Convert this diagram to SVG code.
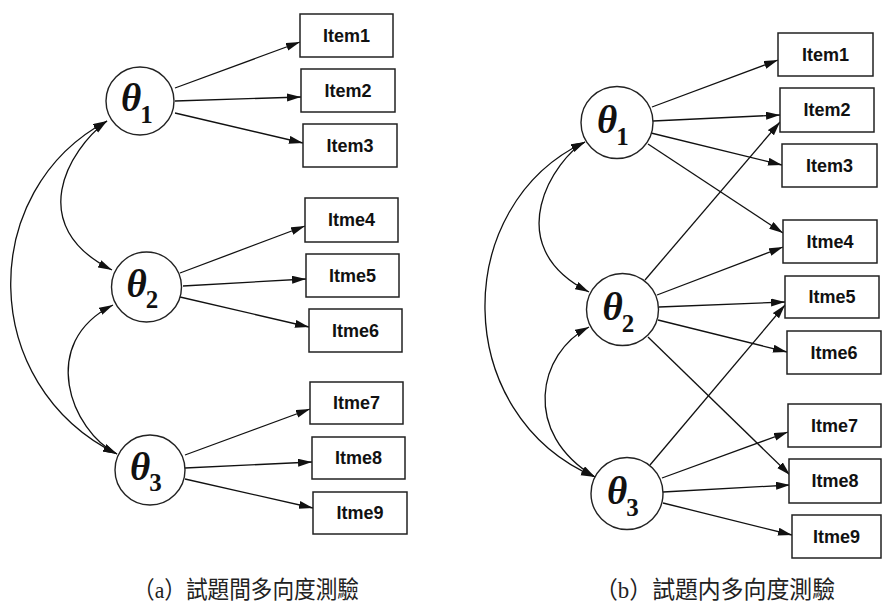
<svg xmlns="http://www.w3.org/2000/svg" width="882" height="610" viewBox="0 0 882 610">
<style>
.box rect{fill:#fff;stroke:#222;stroke-width:1.5}
.box text{font-family:"Liberation Sans",Arial,sans-serif;font-weight:bold;font-size:18px;fill:#111;text-anchor:middle}
.lat circle{fill:#fff;stroke:#222;stroke-width:1.4}
.th{font-family:"Liberation Serif","Times New Roman",serif;font-weight:bold;font-style:italic;font-size:39px;fill:#111}
.sub{font-style:normal;font-size:25px}
.edges line,.edges path{stroke:#111;stroke-width:1.3;fill:none}
.edges line{marker-end:url(#ah)}
.edges path{marker-start:url(#ah);marker-end:url(#ah)}
.cap{font-family:"Liberation Serif","Noto Sans CJK TC",serif;font-size:24px;fill:#222}
</style>
<defs>
<marker id="ah" markerWidth="15" markerHeight="9" refX="14" refY="4" orient="auto-start-reverse" markerUnits="userSpaceOnUse">
<path d="M0,0 L14,4 L0,8 z" fill="#111"/>
</marker>
</defs>
<rect width="882" height="610" fill="#fff"/>

<g class="edges" id="connectors">
<!-- left -->
<line x1="175" y1="88" x2="300" y2="42"/>
<line x1="175" y1="101" x2="301" y2="97"/>
<line x1="175" y1="113" x2="303" y2="143"/>
<line x1="180" y1="273" x2="305" y2="226"/>
<line x1="183" y1="286" x2="306" y2="279"/>
<line x1="180" y1="297" x2="309" y2="327"/>
<line x1="185" y1="455" x2="310" y2="409"/>
<line x1="185" y1="468" x2="312" y2="462"/>
<line x1="185" y1="479" x2="313" y2="508"/>
<path d="M107,121 C68,150 24,226 112,270"/>
<path d="M113,305 C37,343 71,431 117,454"/>
<path d="M107,121 C-23,190 -23,385 117,454"/>
<!-- right -->
<line x1="652" y1="107" x2="778" y2="60"/>
<line x1="653" y1="121" x2="780" y2="115"/>
<line x1="651" y1="133" x2="782" y2="165"/>
<line x1="648" y1="144" x2="783" y2="233"/>
<line x1="645" y1="280" x2="780" y2="122"/>
<line x1="657" y1="295" x2="783" y2="247"/>
<line x1="659" y1="307" x2="785" y2="302"/>
<line x1="658" y1="320" x2="787" y2="352"/>
<line x1="648" y1="337" x2="790" y2="475"/>
<line x1="650" y1="465" x2="785" y2="305"/>
<line x1="662" y1="478" x2="788" y2="432"/>
<line x1="663" y1="492" x2="790" y2="485"/>
<line x1="663" y1="503" x2="792" y2="535"/>
<path d="M585,142 C556,157 496,245 589,292"/>
<path d="M589,327 C538,353 521,433 595,477"/>
<path d="M585,142 C450,205 450,415 595,477"/>
</g>

<!-- left latent nodes -->
<g id="a_theta1" class="lat" transform="translate(140,101)"><circle r="34"/><text class="th" x="-19" y="10">θ<tspan class="sub" dx="-1" dy="12">1</tspan></text></g>
<g id="a_theta2" class="lat" transform="translate(146.5,287)"><circle r="35"/><text class="th" x="-20" y="10">θ<tspan class="sub" dx="-1" dy="11">2</tspan></text></g>
<g id="a_theta3" class="lat" transform="translate(150,470)"><circle r="35"/><text class="th" x="-20" y="10">θ<tspan class="sub" dx="-1" dy="11">3</tspan></text></g>

<!-- left items -->
<g id="a_item1" class="box"><rect x="300" y="14" width="93" height="43"/><text x="346.5" y="42">Item1</text></g>
<g id="a_item2" class="box"><rect x="301" y="69" width="94" height="43"/><text x="348" y="97">Item2</text></g>
<g id="a_item3" class="box"><rect x="303" y="124" width="94" height="43"/><text x="350" y="152">Item3</text></g>
<g id="a_item4" class="box"><rect x="305" y="198" width="93" height="44"/><text x="351.5" y="226">Itme4</text></g>
<g id="a_item5" class="box"><rect x="306" y="254" width="93" height="43"/><text x="352.5" y="282">Itme5</text></g>
<g id="a_item6" class="box"><rect x="309" y="309" width="93" height="43"/><text x="355.5" y="337">Itme6</text></g>
<g id="a_item7" class="box"><rect x="310" y="382" width="93" height="42"/><text x="356.5" y="409">Itme7</text></g>
<g id="a_item8" class="box"><rect x="312" y="437" width="93" height="42"/><text x="358.5" y="464">Itme8</text></g>
<g id="a_item9" class="box"><rect x="313" y="492" width="94" height="42"/><text x="360" y="519">Itme9</text></g>

<!-- right latent nodes -->
<g id="b_theta1" class="lat" transform="translate(617,122.5)"><circle r="36"/><text class="th" x="-20" y="10">θ<tspan class="sub" dx="-1" dy="12">1</tspan></text></g>
<g id="b_theta2" class="lat" transform="translate(622.5,309.5)"><circle r="36"/><text class="th" x="-20" y="10">θ<tspan class="sub" dx="-1" dy="12">2</tspan></text></g>
<g id="b_theta3" class="lat" transform="translate(627,493.5)"><circle r="36"/><text class="th" x="-20" y="10">θ<tspan class="sub" dx="-1" dy="12">3</tspan></text></g>

<!-- right items -->
<g id="b_item1" class="box"><rect x="778" y="33" width="95" height="43"/><text x="825.5" y="61">Item1</text></g>
<g id="b_item2" class="box"><rect x="780" y="88" width="94" height="44"/><text x="827" y="116">Item2</text></g>
<g id="b_item3" class="box"><rect x="782" y="144" width="95" height="43"/><text x="829.5" y="172">Item3</text></g>
<g id="b_item4" class="box"><rect x="783" y="220" width="94" height="43"/><text x="830" y="248">Itme4</text></g>
<g id="b_item5" class="box"><rect x="785" y="276" width="94" height="42"/><text x="832" y="303">Itme5</text></g>
<g id="b_item6" class="box"><rect x="787" y="331" width="94" height="43"/><text x="834" y="359">Itme6</text></g>
<g id="b_item7" class="box"><rect x="788" y="404" width="93" height="43"/><text x="834.5" y="432">Itme7</text></g>
<g id="b_item8" class="box"><rect x="789" y="459" width="92" height="44"/><text x="835" y="487">Itme8</text></g>
<g id="b_item9" class="box"><rect x="792" y="515" width="89" height="43"/><text x="836.5" y="543">Itme9</text></g>

<text class="cap" x="133" y="598" textLength="226" lengthAdjust="spacingAndGlyphs">（a）試題間多向度測驗</text>
<text class="cap" x="595" y="598" textLength="240" lengthAdjust="spacingAndGlyphs">（b）試題内多向度測驗</text>
</svg>
